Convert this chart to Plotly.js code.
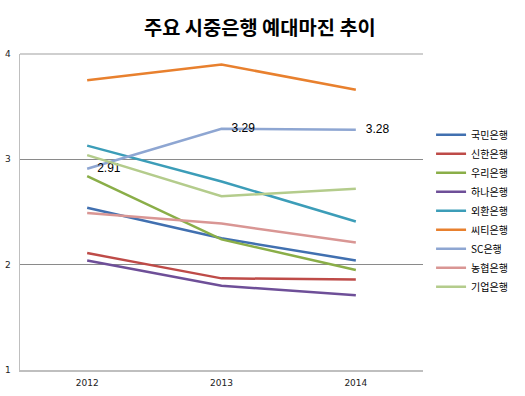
<!DOCTYPE html>
<html>
<head>
<meta charset="utf-8">
<script src="https://cdn.plot.ly/plotly-3.0.1.min.js"></script>
<style>html,body{margin:0;padding:0;background:#fff;}#chart{width:525px;height:396px;}</style>
</head>
<body>
<div id="chart"></div>
<script>
const years = ['2012', '2013', '2014'];
const bankNames = ['국민은행', '신한은행', '우리은행', '하나은행', '외환은행', '씨티은행', 'SC은행', '농협은행', '기업은행'];
const kookmin = [2.54, 2.25, 2.04];
const shinhan = [2.11, 1.87, 1.86];
const woori = [2.84, 2.24, 1.95];
const hana = [2.04, 1.80, 1.71];
const keb = [3.13, 2.79, 2.41];
const citi = [3.75, 3.90, 3.66];
const sc = [2.91, 3.29, 3.28];
const nh = [2.49, 2.39, 2.21];
const ibk = [3.04, 2.65, 2.72];
const seriesValues = [kookmin, shinhan, woori, hana, keb, citi, sc, nh, ibk];
const labeledSeries = 'SC은행';
const yTicks = [1, 2, 3, 4];

const colors = ['#4170B0', '#BE4B48', '#8AAE48', '#6E4F98', '#3C9DB8', '#E8802E', '#8EA6D2', '#D99694', '#B4CC8C'];

const traces = bankNames.map((name, i) => {
  const t = {
    type: 'scatter',
    x: years,
    y: seriesValues[i],
    name: name,
    mode: 'lines',
    line: {color: colors[i], width: 2.5},
    hoverinfo: 'skip'
  };
  if (name === labeledSeries) {
    t.mode = 'lines+text';
    t.texttemplate = '\u00a0\u00a0\u00a0%{y:.2f}';
    t.textposition = 'middle right';
    t.textfont = {family: 'Arial, Liberation Sans, sans-serif', size: 12, color: '#000'};
  }
  return t;
});

const layout = {
  width: 525,
  height: 396,
  margin: {l: 20, r: 92, t: 54, b: 26, pad: 0},
  paper_bgcolor: '#fff',
  plot_bgcolor: '#fff',
  font: {family: '"Noto Sans CJK KR", sans-serif', color: '#000'},
  title: {
    text: '<b>주요 시중은행 예대마진 추이</b>',
    font: {family: '"Noto Sans CJK KR", sans-serif', size: 19.8, color: '#000'},
    x: 0.495, xanchor: 'center',
    y: 0.93, yanchor: 'middle'
  },
  xaxis: {
    type: 'category',
    range: [-0.5, 2.5],
    showgrid: false,
    showline: true,
    linecolor: '#bfbfbf',
    linewidth: 1.5,
    mirror: false,
    ticks: '',
    ticklabelstandoff: 4,
    tickfont: {family: 'DejaVu Sans, sans-serif', size: 9, color: '#222'},
    fixedrange: true
  },
  yaxis: {
    range: [1, 4],
    tickvals: yTicks,
    ticktext: yTicks.map(String),
    showgrid: true,
    gridcolor: '#8a8a8a',
    gridwidth: 1,
    zeroline: false,
    showline: true,
    linecolor: '#bfbfbf',
    linewidth: 1.5,
    ticks: '',
    ticklabelstandoff: 6,
    tickfont: {family: 'DejaVu Sans, sans-serif', size: 9, color: '#222'},
    fixedrange: true
  },
  shapes: [{
    type: 'line', xref: 'paper', yref: 'paper',
    x0: 0, x1: 1, y0: 1, y1: 1,
    line: {color: '#bfbfbf', width: 1.5},
    layer: 'above'
  }],
  legend: {
    x: 1.02, xanchor: 'left',
    y: 0.79, yanchor: 'top',
    font: {family: '"Noto Sans CJK KR", sans-serif', size: 10, color: '#000'},
    bgcolor: 'rgba(0,0,0,0)',
    tracegroupgap: 0
  },
  showlegend: true
};

Plotly.newPlot('chart', traces, layout, {displayModeBar: false, staticPlot: true});
</script>
</body>
</html>
